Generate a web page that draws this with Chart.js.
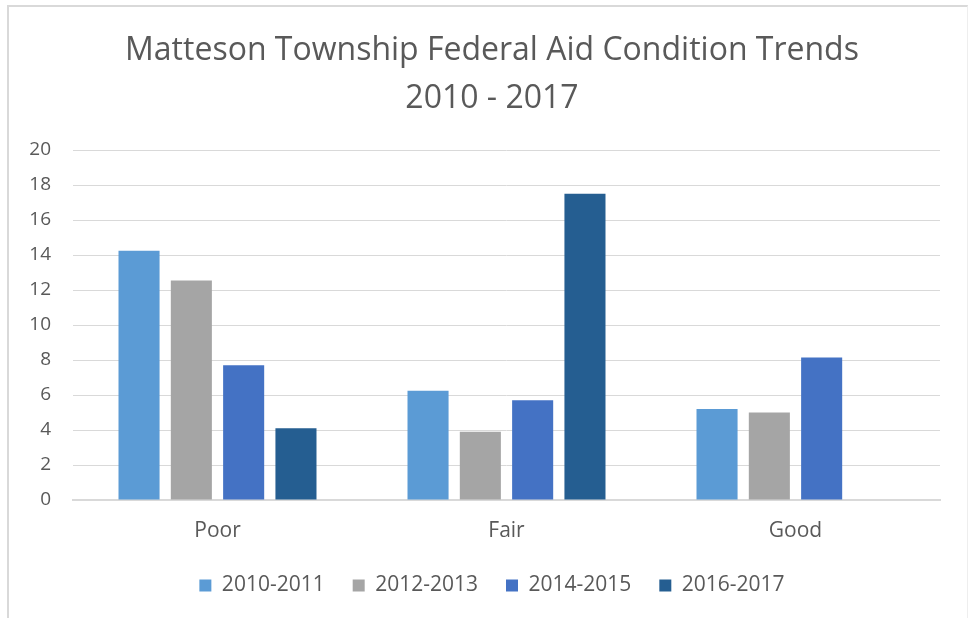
<!DOCTYPE html>
<html>
<head>
<meta charset="utf-8">
<script src="https://cdn.jsdelivr.net/npm/chart.js@4"></script>
<style>
  html, body { margin: 0; padding: 0; background: #fff; }
  #wrap { position: relative; width: 968px; height: 618px; overflow: hidden; }
  #frame { position: absolute; left: 7px; top: 5px; width: 961px; height: 640px; border: 2px solid #d9d9d9; border-right: 1px solid #eeeeee; box-sizing: border-box; pointer-events: none; }
  canvas { position: absolute; left: 0; top: 0; }
</style>
</head>
<body>
<div id="wrap">
  <canvas id="grafico" width="968" height="618"></canvas>
  <div id="frame"></div>
</div>
<script>
const categorias = ['Poor', 'Fair', 'Good'];
const series = ['2010-2011', '2012-2013', '2014-2015', '2016-2017'];
const v2010 = [14.25, 6.25, 5.2];
const v2012 = [12.55, 3.9, 5.0];
const v2014 = [7.7, 5.7, 8.15];
const v2016 = [4.1, 17.5, null];
const cores = ['#5b9bd5', '#a5a5a5', '#4472c4', '#255e91'];
const titulo = ['Matteson Township Federal Aid Condition Trends', '2010 - 2017'];

const fonte = "'Open Sans', sans-serif";
const cinza = '#595959';

const ctx = document.getElementById('grafico').getContext('2d');

const chart = new Chart(ctx, {
  type: 'bar',
  data: {
    labels: categorias,
    datasets: [v2010, v2012, v2014, v2016].map((d, i) => ({
      label: series[i],
      data: d,
      backgroundColor: cores[i],
      borderWidth: 0,
      categoryPercentage: 0.724,
      barPercentage: 0.785
    }))
  },
  options: {
    responsive: false,
    animation: false,
    // padding direito negativo: empurra titulo e legenda um pouco para a direita
    layout: { padding: { left: 0, right: -16, top: 0, bottom: 12 } },
    plugins: {
      title: {
        display: true,
        text: titulo,
        color: cinza,
        font: { family: fonte, size: 32, weight: 'normal', lineHeight: 1.5 },
        padding: { top: 27, bottom: 27 }
      },
      legend: {
        position: 'bottom',
        labels: {
          color: cinza,
          font: { family: fonte, size: 21 },
          boxWidth: 12,
          boxHeight: 12,
          padding: 28
        }
      },
      tooltip: { enabled: false }
    },
    scales: {
      x: {
        grid: { display: false, drawTicks: false },
        border: { color: '#d9d9d9', width: 2 },
        ticks: { color: cinza, font: { family: fonte, size: 21 }, padding: 18 },
        afterFit: s => { s.height = 47; }
      },
      y: {
        min: 0,
        max: 20,
        ticks: { stepSize: 2, color: cinza, font: { family: fonte, size: 19 }, padding: 22 },
        grid: { color: '#d9d9d9', lineWidth: 1, drawTicks: false },
        border: { display: false },
        afterFit: s => { s.width = 73; }
      },
      // eixo vazio a direita, so para reservar a margem
      margem: {
        position: 'right',
        ticks: { display: false },
        grid: { display: false, drawTicks: false },
        border: { display: false },
        afterFit: s => { s.width = 44; }
      }
    }
  }
});
</script>
</body>
</html>
